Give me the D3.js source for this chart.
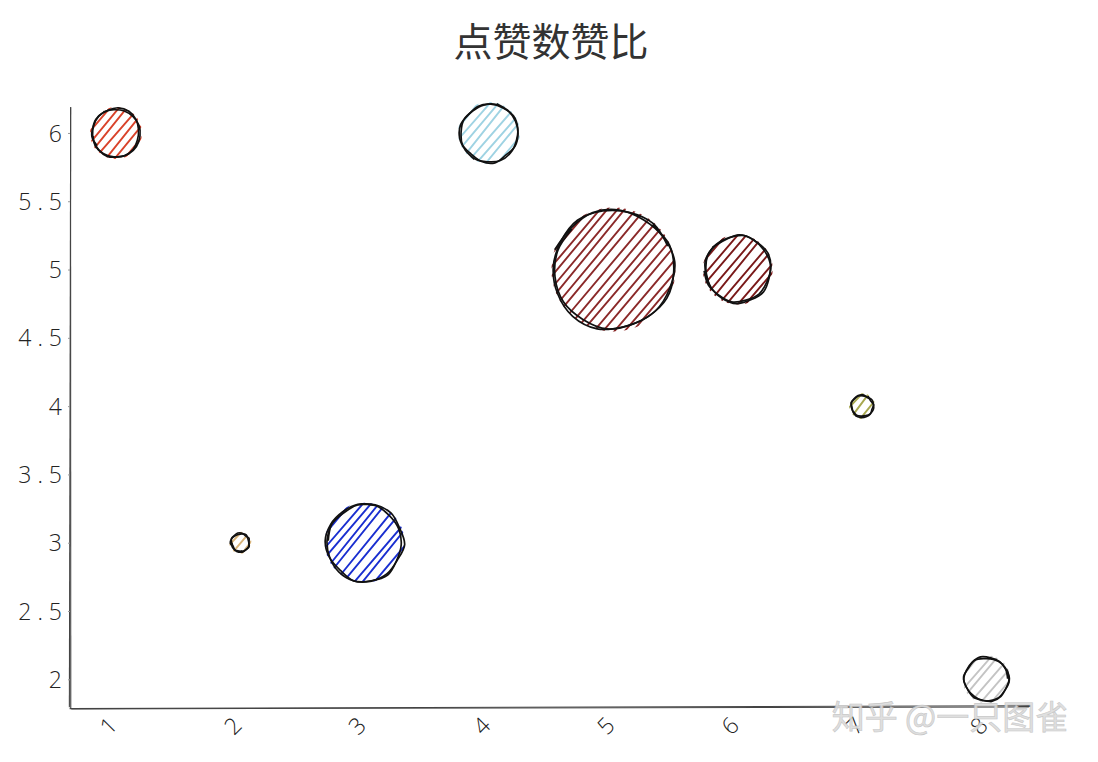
<!DOCTYPE html>
<html><head><meta charset="utf-8">
<script src="https://cdn.jsdelivr.net/npm/d3@7"></script>
<style>html,body{margin:0;padding:0;background:#fff;}svg{display:block;}</style>
</head><body>
<svg id="chart" width="1098" height="762"></svg>
<script>
const title = "点赞数赞比";
const xValues = [1, 2, 3, 4, 5, 6, 7, 8];
const yValues = [6, 3, 3, 6, 5, 5, 4, 2];
const sizes = [24, 9, 38, 29, 60, 33, 11, 22];
const colors = ["#d9432b", "#d9b47a", "#1a2fd0", "#9fd3e3", "#8b2a2a", "#7a1a1a", "#a8a850", "#c4c4c4"];
const xTicks = [1, 2, 3, 4, 5, 6, 7, 8];
const yTicks = [2, 2.5, 3, 3.5, 4, 4.5, 5, 5.5, 6];
const watermark = "知乎 @一只图雀";

const svg = d3.select("#chart");
const x = d3.scaleLinear().domain([0.63, 8.35]).range([70, 1030]);
const y = d3.scaleLinear().domain([1.79, 6.19]).range([708, 107]);
const r = d3.scaleLinear().domain([0, 1]).range([0, 1]);

let seed = 7;
function rnd() { seed = (seed * 16807) % 2147483647; return (seed - 1) / 2147483646; }
function jit(a) { return (rnd() - 0.5) * 2 * a; }

svg.append("text").attr("x", 551).attr("y", 56).attr("text-anchor", "middle")
  .attr("font-family", "'Noto Sans CJK SC', sans-serif").attr("font-size", 39)
  .attr("fill", "#333").text(title);

const defs = svg.append("defs");

function sketchLine(x1, y1, x2, y2, w, c) {
  for (let k = 0; k < 2; k++) {
    const mx = (x1 + x2) / 2 + jit(1), my = (y1 + y2) / 2 + jit(1);
    svg.append("path")
      .attr("d", `M${x1 + jit(1.5)},${y1 + jit(1.5)} Q${mx},${my} ${x2 + jit(1.5)},${y2 + jit(1.5)}`)
      .attr("fill", "none").attr("stroke", c).attr("stroke-width", 1.1);
  }
}
sketchLine(x.range()[0], y.range()[0], x.range()[0], y.range()[1], 1.1, "#444");
sketchLine(x.range()[0], y.range()[0], x.range()[1], y.range()[0] - 1, 1.1, "#444");

const fontF = "'Open Sans', 'DejaVu Sans', sans-serif";
const yAxisG = svg.append("g").attr("transform", `translate(${x.range()[0]},0)`)
  .call(d3.axisLeft(y).tickValues(yTicks).tickSize(2).tickPadding(6).tickFormat(d => String(d).replace(".", " . ")));
yAxisG.select(".domain").remove();
yAxisG.selectAll(".tick line").attr("stroke", "#999");
yAxisG.selectAll(".tick text").attr("font-family", fontF).attr("font-weight", 300)
  .attr("font-size", 23).attr("fill", "#222").attr("dy", "0.35em")
  .attr("xml:space", "preserve");

const xAxisG = svg.append("g").attr("transform", `translate(0,${y.range()[0]})`)
  .call(d3.axisBottom(x).tickValues(xTicks).tickSize(0).tickFormat(d3.format("d")));
xAxisG.select(".domain").remove();
xAxisG.selectAll(".tick text")
  .attr("font-family", fontF).attr("font-weight", 300).attr("font-size", 23).attr("fill", "#222")
  .attr("text-anchor", "middle")
  .attr("transform", "translate(-8,18) rotate(-45)")
  .attr("dy", "0.35em").attr("y", 0);

const data = xValues.map((v, i) => ({ x: v, y: yValues[i], s: sizes[i], c: colors[i], i }));
data.forEach(d => {
  const cx = x(d.x), cy = y(d.y), rr = r(d.s);
  const clipId = "clip" + d.i;
  defs.append("clipPath").attr("id", clipId).append("circle")
    .attr("cx", cx).attr("cy", cy).attr("r", rr + 2);
  const g = svg.append("g");
  const hg = g.append("g").attr("clip-path", `url(#${clipId})`);
  const gap = 7.5;
  const ang = -50 * Math.PI / 180;
  const dx = Math.cos(ang), dy = Math.sin(ang);
  const nx = -dy, ny = dx;
  for (let t = -rr + 2; t <= rr; t += gap) {
    const ox = cx + nx * t + jit(1), oy = cy + ny * t + jit(1);
    const L = rr * 1.2;
    hg.append("line")
      .attr("x1", ox - dx * L).attr("y1", oy - dy * L)
      .attr("x2", ox + dx * L + jit(1.5)).attr("y2", oy + dy * L + jit(1.5))
      .attr("stroke", d.c).attr("stroke-width", 1.9).attr("stroke-linecap", "round");
  }
  for (let k = 0; k < 2; k++) {
    const n = 14, pts = [];
    const st = rnd() * Math.PI * 2;
    for (let j = 0; j <= n + 1; j++) {
      const a = st + j * 2 * Math.PI / n;
      const rj = rr * (1 + jit(0.035)) + jit(0.8);
      pts.push([cx + rj * Math.cos(a), cy + rj * Math.sin(a)]);
    }
    g.append("path").attr("d", d3.line().curve(d3.curveCardinal)(pts))
      .attr("fill", "none").attr("stroke", "#111").attr("stroke-width", 1.7);
  }
});

svg.append("text").attr("x", 950).attr("y", 729).attr("text-anchor", "middle")
  .attr("font-family", "'Noto Sans CJK SC', sans-serif").attr("font-size", 33)
  .attr("fill", "#dcdcdc").attr("stroke", "#c2c2c2").attr("stroke-width", 0.6)
  .attr("opacity", 0.9).text(watermark);
</script>
</body></html>
